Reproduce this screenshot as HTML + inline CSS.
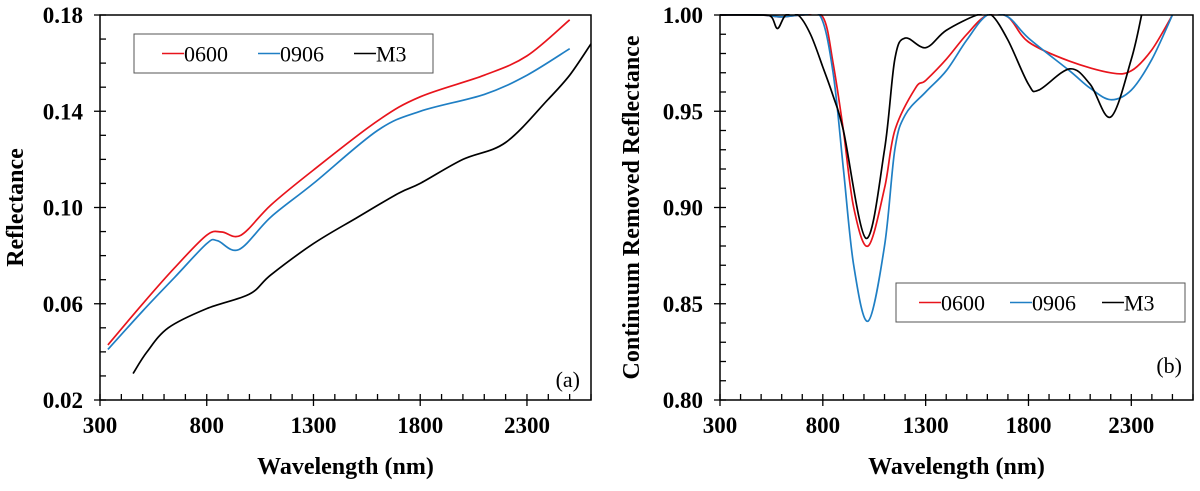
<!DOCTYPE html>
<html><head><meta charset="utf-8"><style>
body{margin:0;background:#fff;}
svg text{font-family:"Liberation Serif",serif;}
</style></head><body>
<svg id="c" width="1200" height="486" xmlns="http://www.w3.org/2000/svg"></svg>
<script>
const ticksX=[300,800,1300,1800,2300];
const ticksA=[0.02,0.06,0.10,0.14,0.18];
const ticksB=[0.80,0.85,0.90,0.95,1.00];
const seriesNames=["0600","0906","M3"];
const colors=["#e8141c","#1f7fc4","#000"];
const aRedW=[337,500,650,800,870,960,1100,1300,1600,1800,2100,2300,2500];
const aRedV=[0.0429,0.060,0.075,0.0885,0.0898,0.0885,0.101,0.1156,0.136,0.146,0.155,0.163,0.178];
const aBlueW=[337,500,650,800,850,950,1100,1300,1600,1800,2100,2300,2500];
const aBlueV=[0.041,0.057,0.071,0.085,0.0862,0.0825,0.096,0.110,0.132,0.140,0.147,0.155,0.166];
const aBlackW=[455,520,620,800,1000,1100,1300,1500,1700,1800,2000,2200,2400,2500,2600];
const aBlackV=[0.031,0.040,0.050,0.058,0.064,0.072,0.085,0.0956,0.106,0.110,0.120,0.127,0.145,0.155,0.168];
const bRedW=[300,500,600,700,800,850,900,950,1020,1100,1150,1250,1300,1400,1500,1600,1700,1800,2000,2200,2300,2400,2500];
const bRedV=[1,1,0.999,1,0.999,0.975,0.94,0.90,0.88,0.91,0.94,0.962,0.966,0.977,0.99,1,0.999,0.986,0.976,0.970,0.971,0.982,1];
const bBlueW=[300,500,600,700,790,850,900,950,1020,1100,1150,1200,1300,1400,1500,1600,1700,1800,2000,2100,2200,2300,2400,2500];
const bBlueV=[1,1,0.999,1,0.999,0.97,0.92,0.87,0.841,0.88,0.93,0.948,0.96,0.971,0.987,1,0.999,0.988,0.971,0.962,0.956,0.961,0.977,1];
const bBlackW=[300,500,550,580,620,680,740,800,850,900,1010,1100,1150,1200,1300,1400,1550,1620,1700,1800,1850,2000,2100,2200,2300,2350];
const bBlackV=[1,1,0.999,0.993,1,1,0.99,0.973,0.958,0.94,0.884,0.93,0.977,0.988,0.983,0.992,1,1,0.987,0.964,0.961,0.972,0.964,0.947,0.977,1];

const svg=document.getElementById('c');
const NS="http://www.w3.org/2000/svg";
function mk(tag,attrs,parent){const e=document.createElementNS(NS,tag);for(const k in attrs)e.setAttribute(k,attrs[k]);(parent||svg).appendChild(e);return e;}
function smooth(pts){let d="M"+pts[0][0]+","+pts[0][1];for(let i=0;i<pts.length-1;i++){const p0=pts[Math.max(0,i-1)],p1=pts[i],p2=pts[i+1],p3=pts[Math.min(pts.length-1,i+2)];
const c1=[p1[0]+(p2[0]-p0[0])/6,p1[1]+(p2[1]-p0[1])/6],c2=[p2[0]-(p3[0]-p1[0])/6,p2[1]-(p3[1]-p1[1])/6];
d+=" C"+c1[0].toFixed(1)+","+c1[1].toFixed(1)+" "+c2[0].toFixed(1)+","+c2[1].toFixed(1)+" "+p2[0].toFixed(1)+","+p2[1].toFixed(1);}return d;}

function panel(cfg){
 const g=mk('g',{});
 
 
 const L=cfg.left,R=cfg.right,T=15,B=400;
 const sx=w=>L+(w-300)/(2600-300)*(R-L);
 const sy=v=>B-(v-cfg.ymin)/(cfg.ymax-cfg.ymin)*(B-T);
 const clip=mk('clipPath',{id:'clip'+cfg.id},g);mk('rect',{x:L,y:T-1,width:R-L,height:B-T+1},clip);
 cfg.series.forEach((s,i)=>{
  const pts=s[0].map((w,j)=>[sx(w),sy(s[1][j])]);
  const p=mk('path',{d:smooth(pts),fill:'none',stroke:colors[i],'stroke-width':1.7,'clip-path':'url(#clip'+cfg.id+')'},g);
  
  
 });
 const frame=mk('rect',{x:L,y:T,width:R-L,height:B-T,fill:'none',stroke:'#000','stroke-width':1.5},g);
 
 
 for(let w=300;w<=2600;w+=100){const x=sx(w);const major=ticksX.includes(w);mk('line',{x1:x,x2:x,y1:major?B+6:B,y2:B-6,stroke:'#000','stroke-width':1.3},g);}
 ticksX.forEach(w=>{const t=mk('text',{x:sx(w),y:B+33,'text-anchor':'middle','font-size':23,'font-weight':'bold'},g);t.textContent=w;
  
  });
 const step=(cfg.ymax-cfg.ymin)/((cfg.yt.length-1)*cfg.minor);
 for(let k=0;k<=(cfg.yt.length-1)*cfg.minor;k++){const y=sy(cfg.ymin+k*step);const major=k%cfg.minor==0;mk('line',{x1:major?L-6:L,x2:L+6,y1:y,y2:y,stroke:'#000','stroke-width':1.3},g);}
 cfg.yt.forEach(v=>{const t=mk('text',{x:L-17,y:sy(v)+8,'text-anchor':'end','font-size':23,'font-weight':'bold'},g);t.textContent=v.toFixed(2);
  
  });
 const xt=mk('text',{x:(L+R)/2,y:474,'text-anchor':'middle','font-size':24,'font-weight':'bold'},g);xt.textContent="Wavelength (nm)";
 
 
 const yt=mk('text',{x:0,y:0,'text-anchor':'middle','font-size':24,'font-weight':'bold',transform:`translate(${cfg.ytx},${(T+B)/2}) rotate(-90)`},g);yt.textContent=cfg.ytitle;
 
 
 const lg=mk('g',{},g);
 
 
 const [lx,ly,lw,lh]=cfg.legend;
 mk('rect',{x:lx,y:ly,width:lw,height:lh,fill:'#fff',stroke:'#555','stroke-width':1},lg);
 const offs=cfg.legOffs;
 seriesNames.forEach((n,i)=>{const x=lx+offs[i];mk('line',{x1:x,x2:x+22,y1:ly+lh/2,y2:ly+lh/2,stroke:colors[i],'stroke-width':1.6},lg);
  const t=mk('text',{x:x+22,y:ly+lh/2+8,'font-size':22},lg);t.textContent=n;
  
  });
 const pl=mk('text',{x:R-11,y:cfg.plabY,'text-anchor':'end','font-size':22},g);pl.textContent=cfg.plab;
 
 
}
panel({id:'a',name:'panel-a',left:100,right:591,ymin:0.02,ymax:0.18,yt:ticksA,minor:4,ytitle:'Reflectance',ytx:23,
 series:[[aRedW,aRedV],[aBlueW,aBlueV],[aBlackW,aBlackV]],legend:[134,34,299,39],legOffs:[28,124,220],plab:'(a)',plabY:387});
panel({id:'b',name:'panel-b',left:720,right:1193,ymin:0.80,ymax:1.00,yt:ticksB,minor:5,ytitle:'Continuum Removed Reflectance',ytx:639,
 series:[[bRedW,bRedV],[bBlueW,bBlueV],[bBlackW,bBlackV]],legend:[896,283,289,39],legOffs:[23,114,206],plab:'(b)',plabY:373});
</script>
</body></html>
